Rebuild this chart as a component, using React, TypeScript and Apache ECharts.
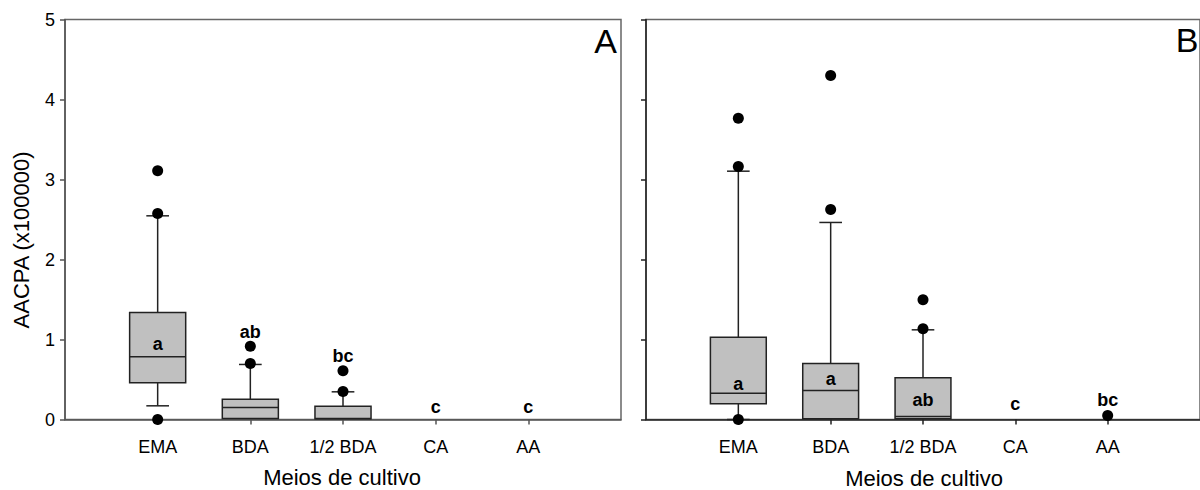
import React, { useEffect, useRef } from "react";
import * as echarts from "echarts";

const categories = ["EMA", "BDA", "1/2 BDA", "CA", "AA"];
const yTicks = [0, 1, 2, 3, 4, 5];
const yTitle = "AACPA (x100000)";
const xTitle = "Meios de cultivo";

// [q1, median, q3, lowerWhisker, upperWhisker] ; null = no box
const boxesA: any = [
  [0.458, 0.783, 1.338, 0.171, 2.546],
  [0.013, 0.15, 0.254, null, 0.688],
  [0.008, 0.012, 0.167, null, 0.346],
  null,
  null,
];
const outliersA = [[3.11, 2.575, 0], [0.917, 0.7], [0.608, 0.35], [], []];
const lettersA = ["a", "ab", "bc", "c", "c"];
const letterPosA = [0.95, 1.096, 0.796, 0.154, 0.154];

const boxesB: any = [
  [0.196, 0.329, 1.029, 0.0, 3.104],
  [0.008, 0.363, 0.7, null, 2.463],
  [0.008, 0.038, 0.521, null, 1.121],
  null,
  null,
];
const outliersB = [[3.767, 3.163, 0], [4.3, 2.625], [1.496, 1.133], [], [0.05]];
const lettersB = ["a", "a", "ab", "c", "bc"];
const letterPosB = [0.446, 0.508, 0.246, 0.2, 0.24];

const FONT = '"Liberation Sans", Arial, Helvetica, sans-serif';

function boxData(boxes: any[]) {
  const out: number[][] = [];
  boxes.forEach((b, i) => {
    if (b) out.push([i + 1, b[0], b[1], b[2], b[3] == null ? b[0] : b[3], b[4]]);
  });
  return out;
}

function renderBox(params: any, api: any) {
  const x = api.value(0);
  const q1 = api.value(1);
  const med = api.value(2);
  const q3 = api.value(3);
  const lo = api.value(4);
  const hi = api.value(5);
  const c = (v: number) => api.coord([x, v]);
  const bw = api.size([0.605, 0])[0];
  const cw = api.size([0.245, 0])[0];
  const [cx, y1] = c(q1);
  const y3 = c(q3)[1];
  const ym = c(med)[1];
  const yhi = c(hi)[1];
  const ylo = c(lo)[1];
  const st = { stroke: "#222", lineWidth: 1.5 };
  const children: any[] = [];
  if (hi > q3) {
    children.push({ type: "line", shape: { x1: cx, y1: y3, x2: cx, y2: yhi }, style: st });
    children.push({ type: "line", shape: { x1: cx - cw / 2, y1: yhi, x2: cx + cw / 2, y2: yhi }, style: st });
  }
  if (lo < q1) {
    children.push({ type: "line", shape: { x1: cx, y1: y1, x2: cx, y2: ylo }, style: st });
    children.push({ type: "line", shape: { x1: cx - cw / 2, y1: ylo, x2: cx + cw / 2, y2: ylo }, style: st });
  }
  children.push({
    type: "rect",
    shape: { x: cx - bw / 2, y: y3, width: bw, height: y1 - y3 },
    style: { fill: "#c0c0c0", stroke: "#222", lineWidth: 1.5 },
  });
  children.push({ type: "line", shape: { x1: cx - bw / 2, y1: ym, x2: cx + bw / 2, y2: ym }, style: st });
  return { type: "group", children };
}

function letterRender(letters: string[]) {
  return (params: any, api: any) => {
    const pt = api.coord([api.value(0), api.value(1)]);
    return {
      type: "text",
      x: pt[0],
      y: pt[1],
      style: {
        text: letters[params.dataIndex],
        fill: "#000",
        font: `bold 18px ${FONT}`,
        align: "center",
        verticalAlign: "middle",
      },
    };
  };
}

function outlierData(outs: number[][]) {
  const d: number[][] = [];
  outs.forEach((arr, i) => arr.forEach((v) => d.push([i + 1, v])));
  return d;
}

export default function App() {
  const ref = useRef<HTMLDivElement>(null);
  useEffect(() => {
    if (!ref.current) return;
    const chart = echarts.init(ref.current, undefined, { renderer: "svg" });
    const xAxisBase = (gridIndex: number, color: string) => ({
      type: "value",
      gridIndex,
      min: 0,
      max: 6,
      interval: 1,
      axisLine: { show: true, onZero: false, lineStyle: { color, width: 1.5 } },
      axisTick: { show: true, inside: false, length: 5, customValues: [1, 2, 3, 4, 5], lineStyle: { color, width: 1.5 } },
      axisLabel: {
        show: true,
        customValues: [1, 2, 3, 4, 5],
        formatter: (v: number) => categories[Math.round(v) - 1] ?? "",
        fontSize: 18,
        fontFamily: FONT,
        color: "#000",
        margin: 18,
      },
      splitLine: { show: false },
    });
    const yAxisBase = (gridIndex: number, color: string, showLabel: boolean) => ({
      type: "value",
      gridIndex,
      min: yTicks[0],
      max: yTicks[yTicks.length - 1],
      interval: 1,
      axisLine: { show: true, lineStyle: { color, width: 1.5 } },
      axisTick: { show: true, inside: false, length: 5, lineStyle: { color, width: 1.5 } },
      axisLabel: { show: showLabel, fontSize: 18, fontFamily: FONT, color: "#000", margin: 10 },
      splitLine: { show: false },
    });
    chart.setOption({
      animation: false,
      backgroundColor: "#fff",
      grid: [
        { left: 65, top: 19.5, width: 556, height: 400, show: true, borderColor: "#666", borderWidth: 1.5, backgroundColor: "transparent" },
        { left: 646, top: 19.5, width: 555, height: 400, show: true, borderColor: "#666", borderWidth: 1.5, backgroundColor: "transparent" },
      ],
      xAxis: [xAxisBase(0, "#555"), xAxisBase(1, "#222")],
      yAxis: [yAxisBase(0, "#555", true), yAxisBase(1, "#222", false)],
      graphic: [
        { type: "text", x: 21.7, y: 240, rotation: Math.PI / 2, style: { text: yTitle, font: `22px ${FONT}`, fill: "#000", align: "center", verticalAlign: "middle" } },
        { type: "text", x: 342, y: 477, style: { text: xTitle, font: `22px ${FONT}`, fill: "#000", align: "center", verticalAlign: "middle" } },
        { type: "text", x: 924, y: 478.5, style: { text: xTitle, font: `22px ${FONT}`, fill: "#000", align: "center", verticalAlign: "middle" } },
        { type: "text", x: 605.5, y: 41.3, style: { text: "A", font: `34px ${FONT}`, fill: "#000", align: "center", verticalAlign: "middle" } },
        { type: "text", x: 1187, y: 40, style: { text: "B", font: `34px ${FONT}`, fill: "#000", align: "center", verticalAlign: "middle" } },
      ],
      series: [
        { type: "custom", xAxisIndex: 0, yAxisIndex: 0, renderItem: renderBox, data: boxData(boxesA), z: 2, clip: false },
        { type: "custom", xAxisIndex: 1, yAxisIndex: 1, renderItem: renderBox, data: boxData(boxesB), z: 2, clip: false },
        { type: "scatter", xAxisIndex: 0, yAxisIndex: 0, data: outlierData(outliersA), symbol: "circle", symbolSize: 11, itemStyle: { color: "#000", opacity: 1 }, z: 3 },
        { type: "scatter", xAxisIndex: 1, yAxisIndex: 1, data: outlierData(outliersB), symbol: "circle", symbolSize: 11, itemStyle: { color: "#000", opacity: 1 }, z: 3 },
        { type: "custom", xAxisIndex: 0, yAxisIndex: 0, renderItem: letterRender(lettersA), data: letterPosA.map((v, i) => [i + 1, v]), z: 4 },
        { type: "custom", xAxisIndex: 1, yAxisIndex: 1, renderItem: letterRender(lettersB), data: letterPosB.map((v, i) => [i + 1, v]), z: 4 },
      ],
    });
    return () => chart.dispose();
  }, []);
  return <div ref={ref} style={{ position: "absolute", left: 0, top: 0, width: 1200, height: 490, background: "#fff" }} />;
}
